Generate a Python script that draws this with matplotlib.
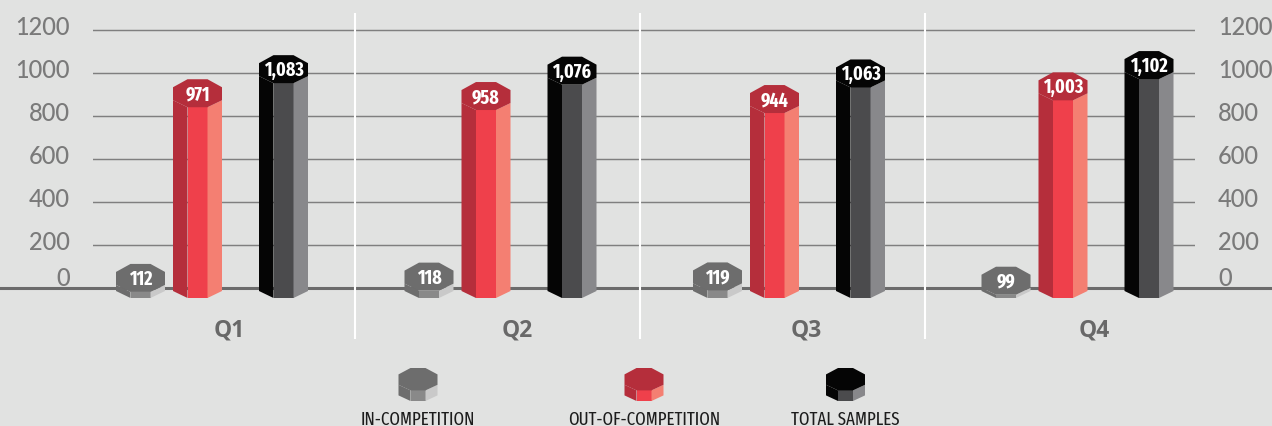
import os
import matplotlib
matplotlib.use('Agg')
import matplotlib.pyplot as plt
from matplotlib import font_manager as fm
from matplotlib.font_manager import FontProperties
from matplotlib.patches import Polygon
from matplotlib.transforms import ScaledTranslation
import numpy as np

# ---------------- data ----------------
quarters = ['Q1', 'Q2', 'Q3', 'Q4']
in_competition = [112, 118, 119, 99]
out_of_competition = [971, 958, 944, 1003]
total_samples = [1083, 1076, 1063, 1102]
series_names = ['IN-COMPETITION', 'OUT-OF-COMPETITION', 'TOTAL SAMPLES']
y_ticks = [0, 200, 400, 600, 800, 1000, 1200]

# ---------------- style / layout ----------------
W, H, DPI = 1272, 427, 100
BG = '#e1e2e1'
series_colors = [
    ('#6d6d6d', '#898989', '#c9c9c9'),   # top/left, middle, right
    ('#b52e3b', '#ef404b', '#f47f72'),
    ('#050505', '#4b4b4d', '#88888b'),
]
bar_offsets_px = [-71.5, -14.5, 71.5]
legend_centers_px = [418, 644, 845.5]

AX_L, AX_R = 93, 1195
BASE_PX = 289
PX_PER_VAL = 0.215
GROUP_PX = 288.5
GROUP0_PX = 212


def condensed_font(bold, order):
    """order: dict stretch-kind -> rank (lower is better)."""
    target = 700 if bold else 400
    wmap = {'ultralight': 200, 'light': 300, 'normal': 400, 'regular': 400, 'book': 400,
            'medium': 500, 'semibold': 600, 'demibold': 600, 'bold': 700, 'heavy': 800,
            'extra bold': 800, 'black': 900}
    best, best_score = None, None
    for f in fm.fontManager.ttflist:
        fn = os.path.basename(f.fname).lower().replace('-', '').replace('_', '')
        nm = f.name.lower()
        if f.style != 'normal' or 'italic' in fn or 'oblique' in fn:
            continue
        if 'mono' in nm or ('serif' in nm and 'sans' not in nm) or 'cjk' in nm:
            continue
        txt = fn + ' ' + nm.replace(' ', '')
        if 'extracondensed' in txt or 'ultracondensed' in txt:
            kind = 'extra'
        elif 'semicondensed' in txt:
            kind = 'semi'
        elif 'condensed' in txt or 'narrow' in txt:
            kind = 'cond'
        else:
            continue
        w = f.weight if isinstance(f.weight, int) else wmap.get(str(f.weight).lower(), 400)
        score = order[kind] * 1000 + abs(w - target)
        if best_score is None or score < best_score:
            best, best_score = f, score
    if best is not None:
        return FontProperties(fname=best.fname)
    return FontProperties(family=['Roboto', 'DejaVu Sans'], weight='bold' if bold else 'normal')


fp_val = condensed_font(True, {'extra': 0, 'cond': 1, 'semi': 2})
fp_leg = condensed_font(False, {'extra': 0, 'cond': 1, 'semi': 2})

fig = plt.figure(figsize=(W / DPI, H / DPI), dpi=DPI, facecolor=BG)

# background / legend axes in pixel coordinates (y up)
lax = fig.add_axes([0, 0, 1, 1], zorder=0)
lax.set_xlim(0, W)
lax.set_ylim(0, H)
lax.axis('off')

ax = fig.add_axes([AX_L / W, (H - BASE_PX) / H, (AX_R - AX_L) / W, BASE_PX / H], zorder=1)
ax.set_facecolor('none')
ax.set_xlim((AX_L - GROUP0_PX) / GROUP_PX, (AX_R - GROUP0_PX) / GROUP_PX)
ax.set_ylim(0, BASE_PX / PX_PER_VAL)
ux = 1 / GROUP_PX
uy = 1 / PX_PER_VAL


def prism(a, cx, top, bottom, hw, mw, c1, c2, fr, drop, cols, z=3):
    topc, midc, rc = cols
    kw = dict(closed=True, lw=0, clip_on=False, zorder=z, antialiased=True)
    a.add_patch(Polygon([(cx - hw, top - c2), (cx - mw, top - fr), (cx - mw, bottom),
                         (cx - hw, bottom + drop)], facecolor=topc, **kw))
    a.add_patch(Polygon([(cx - mw, top - fr), (cx + mw, top - fr), (cx + mw, bottom),
                         (cx - mw, bottom)], facecolor=midc, **kw))
    a.add_patch(Polygon([(cx + mw, top - fr), (cx + hw, top - c2), (cx + hw, bottom + drop),
                         (cx + mw, bottom)], facecolor=rc, **kw))
    a.add_patch(Polygon([(cx - mw, top), (cx + mw, top), (cx + hw, top - c1), (cx + hw, top - c2),
                         (cx + mw, top - fr), (cx - mw, top - fr), (cx - hw, top - c2),
                         (cx - hw, top - c1)], facecolor=topc, **kw))


series = [in_competition, out_of_competition, total_samples]
value_texts = []
for s, vals in enumerate(series):
    for i, v in enumerate(vals):
        cx = i + bar_offsets_px[s] * ux
        prism(ax, cx, v, -10 * uy, 24.5 * ux, 10 * ux, 8 * uy, 21 * uy, 28 * uy, 7 * uy,
              series_colors[s], z=3)
        t = ax.text(cx, v - 20 * uy, f'{v:,}', ha='center', va='baseline', color='white',
                    fontproperties=fp_val, fontsize=13, zorder=4, clip_on=False)
        if fp_val.get_file() is None:
            t.set_fontweight('bold')
        value_texts.append(t)

# grid and ticks
ax.set_yticks(y_ticks)
ax.yaxis.grid(True, color='#7f7f7f', lw=1.05)
ax.xaxis.grid(False)
ax.set_axisbelow(True)
for sp in ax.spines.values():
    sp.set_visible(False)
ax.tick_params(axis='y', length=0, pad=16.6, labelsize=17, labelcolor='#7a7a7a')
ax.set_xticks(np.arange(len(quarters)) + 17 * ux)
ax.set_xticklabels(quarters)
ax.tick_params(axis='x', length=0, pad=21, labelsize=16.5, labelcolor='#686868')
for lb in ax.get_xticklabels():
    lb.set_fontfamily(['Open Sans', 'DejaVu Sans'])
    lb.set_fontweight('bold')

ax2 = ax.twinx()
ax2.set_zorder(1)
ax2.set_ylim(ax.get_ylim())
ax2.set_yticks(y_ticks)
for sp in ax2.spines.values():
    sp.set_visible(False)
ax2.tick_params(axis='y', length=0, pad=16.6, labelsize=17, labelcolor='#7a7a7a')

for a in (ax, ax2):
    for t, lb in zip(y_ticks, a.get_yticklabels()):
        lb.set_fontfamily(['Lato', 'DejaVu Sans'])
        lb.set_fontweight('medium')
        dy = 12.5 if t == 0 else 5.5
        lb.set_transform(lb.get_transform() + ScaledTranslation(0, dy / DPI, fig.dpi_scale_trans))

# baseline across full width
ax.axhline(0, xmin=-AX_L / (AX_R - AX_L), xmax=(W - AX_L) / (AX_R - AX_L), clip_on=False,
           color='#6b6b6b', lw=2.2, zorder=1.5)

# white separators
sep_x = [(355 + 285 * i - GROUP0_PX) * ux for i in range(len(quarters) - 1)]
ax.vlines(sep_x, (BASE_PX - 340) * uy, (BASE_PX - 14) * uy, colors='white', lw=1.5,
          clip_on=False, zorder=2)

# legend
legend_texts = []
for s, name in enumerate(series_names):
    cx = legend_centers_px[s]
    prism(lax, cx, H - 369, H - 402, 19.5, 7.5, 6.4, 16.8, 22.4, 5.6, series_colors[s], z=3)
    t = lax.text(cx, H - 425, name, ha='center', va='baseline', fontsize=16,
                 fontproperties=fp_leg, color='#1c1c1c')
    t.set_fontsize(16)
    legend_texts.append(t)

# fit text sizes to the reference's widths
fig.canvas.draw()
rend = fig.canvas.get_renderer()
bb = legend_texts[0].get_window_extent(rend)
leg_size = min(16.5, legend_texts[0].get_fontsize() * 115 / bb.width)
for t in legend_texts:
    t.set_fontsize(leg_size)
ref = value_texts[len(in_competition) * 2]  # "1,083"
bb = ref.get_window_extent(rend)
val_size = min(14.0, ref.get_fontsize() * 40 / bb.width)
for t in value_texts:
    t.set_fontsize(val_size)

fig.savefig('out.png', dpi=DPI, facecolor=BG)
